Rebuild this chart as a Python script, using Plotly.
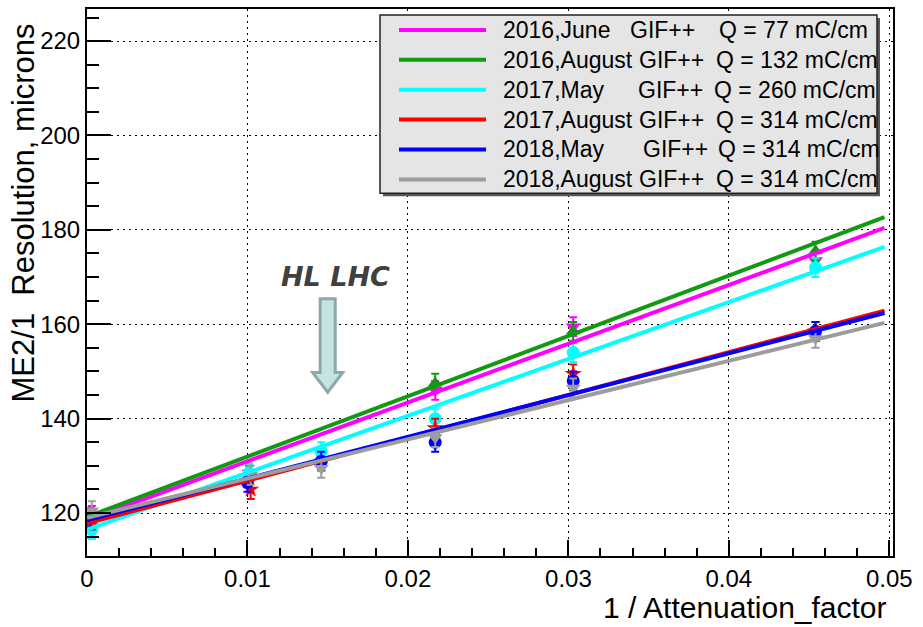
import plotly.graph_objects as go

# ---------------- data ----------------
series_names = [
    "2016,June GIF++ Q = 77 mC/cm",
    "2016,August GIF++ Q = 132 mC/cm",
    "2017,May GIF++ Q = 260 mC/cm",
    "2017,August GIF++ Q = 314 mC/cm",
    "2018,May GIF++ Q = 314 mC/cm",
    "2018,August GIF++ Q = 314 mC/cm",
]
legend_date = ["2016,June", "2016,August", "2017,May", "2017,August", "2018,May", "2018,August"]
legend_gif = ["GIF++"] * 6
legend_q = ["Q = 77 mC/cm", "Q = 132 mC/cm", "Q = 260 mC/cm",
            "Q = 314 mC/cm", "Q = 314 mC/cm", "Q = 314 mC/cm"]

x_june16 = [0.0003, 0.0101, 0.0217, 0.0303, 0.0454]
y_june16 = [119.5, 128.5, 146.0, 159.5, 173.5]
x_aug16 = [0.0003, 0.0101, 0.0217, 0.0303, 0.0454]
y_aug16 = [118.0, 128.0, 147.5, 158.5, 175.5]
x_may17 = [0.0003, 0.0101, 0.0146, 0.0217, 0.0303, 0.0454]
y_may17 = [116.5, 128.5, 133.0, 140.0, 154.0, 172.0]
x_aug17 = [0.0003, 0.0102, 0.0217, 0.0303, 0.0454]
y_aug17 = [118.5, 125.0, 138.0, 149.5, 158.5]
x_may18 = [0.0002, 0.0100, 0.0146, 0.0217, 0.0303, 0.0454]
y_may18 = [119.0, 126.5, 131.0, 135.0, 148.0, 158.5]
x_aug18 = [0.0003, 0.0102, 0.0146, 0.0217, 0.0303, 0.0454]
y_aug18 = [120.5, 128.0, 129.5, 136.0, 146.5, 157.0]
err = 2.0

# linear fit lines: value at x = 0 and at x = fit_x_end
fit_x = [0.0, 0.0497]
fit_june16 = [118.5, 180.4]
fit_aug16 = [119.2, 182.7]
fit_may17 = [116.5, 176.4]
fit_aug17 = [117.8, 162.9]
fit_may18 = [118.5, 162.4]
fit_aug18 = [119.0, 160.3]

colors = ["#ff00ff", "#109a10", "#00ffff", "#ff0000", "#0000ff", "#9c9c9c"]
symbols = ["triangle-down", "triangle-up", "circle", "star", "circle", "triangle-down"]

xs = [x_june16, x_aug16, x_may17, x_aug17, x_may18, x_aug18]
ys = [y_june16, y_aug16, y_may17, y_aug17, y_may18, y_aug18]
fits = [fit_june16, fit_aug16, fit_may17, fit_aug17, fit_may18, fit_aug18]

hl_lhc_x = 0.015  # HL LHC position on the x axis

# ---------------- figure ----------------
W, H = 923, 627
ML, MR, MT, MB = 87, 30, 7, 71
PW, PH = W - ML - MR, H - MT - MB


def px(p):
    return (p - ML) / PW


def py(p):
    return (H - MB - p) / PH


fig = go.Figure()

for i in range(6):
    fig.add_trace(go.Scatter(
        x=xs[i], y=ys[i], mode="markers", name=series_names[i],
        marker=dict(color=colors[i], symbol=symbols[i], size=13, line=dict(width=0)),
        error_y=dict(type="constant", value=err, color=colors[i], thickness=2, width=4),
        showlegend=False,
    ))
for i in range(6):
    fig.add_trace(go.Scatter(
        x=fit_x, y=fits[i], mode="lines", name=series_names[i],
        line=dict(color=colors[i], width=4), showlegend=False,
    ))

shapes = []
annotations = []

# custom legend box (ROOT style)
shapes.append(dict(type="rect", xref="paper", yref="paper",
                   x0=px(383), x1=px(880), y0=py(16), y1=py(195),
                   fillcolor="#555555", line=dict(width=0), layer="above"))
shapes.append(dict(type="rect", xref="paper", yref="paper",
                   x0=px(380), x1=px(877), y0=py(13), y1=py(192),
                   fillcolor="#e5e5e5", line=dict(color="#222222", width=1.5), layer="above"))
row_y = [28, 58, 88, 118, 148, 178]
gif_x = [629, 638, 637, 638, 642, 638]
q_x = [718, 715, 713, 715, 717, 715]
for i in range(6):
    shapes.append(dict(type="line", xref="paper", yref="paper",
                       x0=px(399), x1=px(486), y0=py(row_y[i]), y1=py(row_y[i]),
                       line=dict(color=colors[i], width=4), layer="above"))
    for txt, xx in ((legend_date[i], 502), (legend_gif[i], gif_x[i]), (legend_q[i], q_x[i])):
        annotations.append(dict(text=txt, xref="paper", yref="paper", x=px(xx), y=py(row_y[i]),
                                xanchor="left", yanchor="middle", showarrow=False,
                                font=dict(family="Liberation Sans", size=23, color="black"),
                                borderpad=0))

# HL LHC block arrow
hw_s, hw_h = 0.00047, 0.00094
y_top, y_neck, y_tip = 165.4, 149.8, 145.6
path = (f"M {hl_lhc_x - hw_s},{y_top} L {hl_lhc_x + hw_s},{y_top} L {hl_lhc_x + hw_s},{y_neck} "
        f"L {hl_lhc_x + hw_h},{y_neck} L {hl_lhc_x},{y_tip} L {hl_lhc_x - hw_h},{y_neck} "
        f"L {hl_lhc_x - hw_s},{y_neck} Z")
shapes.append(dict(type="path", path=path, fillcolor="#c4e4e4",
                   line=dict(color="#8fa7a7", width=3)))
annotations.append(dict(text="<b><i>HL LHC</i></b>", x=0.0155, y=166.5, xref="x", yref="y",
                        xanchor="center", yanchor="bottom", showarrow=False,
                        font=dict(family="DejaVu Sans", size=27, color="#404040")))

# axis titles
annotations.append(dict(text="1 / Attenuation_factor", xref="paper", yref="paper",
                        x=px(889), y=py(608), xanchor="right", yanchor="middle",
                        showarrow=False,
                        font=dict(family="Liberation Sans", size=30, color="black")))
annotations.append(dict(text="ME2/1\u00a0\u00a0Resolution, microns", xref="paper", yref="paper",
                        x=px(23), y=py(20), xanchor="center", yanchor="top",
                        textangle=-90, showarrow=False,
                        font=dict(family="Liberation Sans", size=31, color="black")))

axis_common = dict(
    showline=True, linecolor="black", linewidth=2, mirror=True,
    showgrid=True, gridcolor="black", gridwidth=1, griddash="2px,4px",
    ticks="inside", tickcolor="black", tickwidth=1.5,
    tickfont=dict(family="Liberation Sans", size=24, color="black"),
    zeroline=False,
)

fig.update_layout(
    width=W, height=H,
    margin=dict(l=ML, r=MR, t=MT, b=MB),
    paper_bgcolor="white", plot_bgcolor="white",
    showlegend=False,
    shapes=shapes, annotations=annotations,
    xaxis=dict(range=[0, 0.05023], ticklen=16,
               tickvals=[0, 0.01, 0.02, 0.03, 0.04, 0.05],
               ticktext=["0", "0.01", "0.02", "0.03", "0.04", "0.05"],
               minor=dict(dtick=0.002, tick0=0, ticks="inside", ticklen=8, tickcolor="black",
                          tickwidth=1.5, showgrid=False),
               **axis_common),
    yaxis=dict(range=[110.9, 226.8], tick0=120, dtick=20, ticklen=24,
               minor=dict(dtick=5, ticks="inside", ticklen=12, tickcolor="black",
                          tickwidth=1.5, showgrid=False),
               **axis_common),
)

fig.write_html("out.html")
